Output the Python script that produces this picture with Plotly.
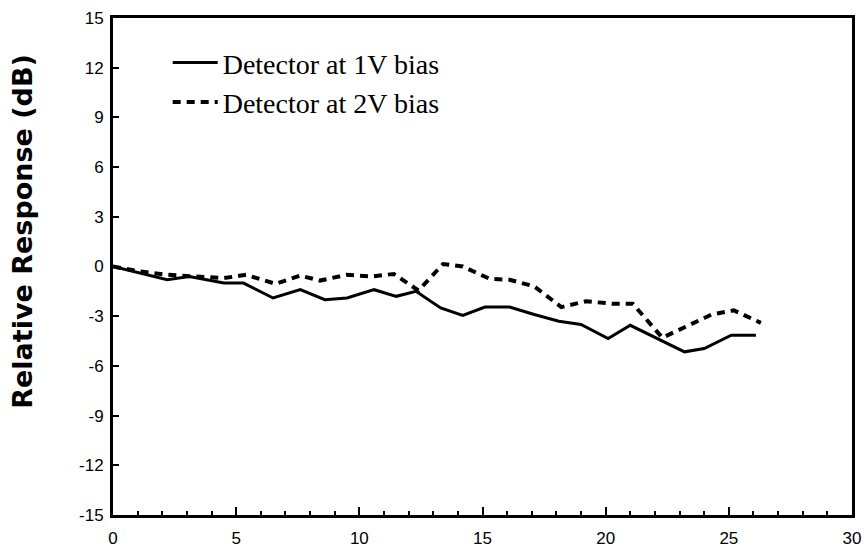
import plotly.graph_objects as go

# Data (x in arbitrary units as shown on the chart, y = relative response in dB)
x_1v = [0, 1.1, 2.2, 3.1, 4.5, 5.3, 6.5, 7.6, 8.6, 9.5, 10.6, 11.5, 12.3, 13.3, 14.2,
        15.1, 16.1, 17.1, 18.1, 19.0, 20.1, 21.0, 22.1, 23.2, 24.0, 25.1, 26.1]
y_1v = [0, -0.4, -0.8, -0.6, -1.0, -1.0, -1.9, -1.4, -2.0, -1.9, -1.4, -1.8, -1.5, -2.5, -2.95,
        -2.45, -2.45, -2.9, -3.3, -3.5, -4.35, -3.55, -4.35, -5.15, -4.95, -4.15, -4.15]

x_2v = [0, 1.1, 2.2, 3.3, 4.5, 5.4, 6.6, 7.6, 8.4, 9.5, 10.5, 11.4, 12.4, 13.4, 14.2,
        15.3, 16.1, 17.1, 18.2, 19.2, 20.3, 21.1, 22.3, 23.3, 24.3, 25.2, 26.3]
y_2v = [0, -0.3, -0.5, -0.6, -0.7, -0.5, -1.05, -0.55, -0.85, -0.5, -0.6, -0.45, -1.45, 0.15, 0.0,
        -0.75, -0.8, -1.2, -2.45, -2.1, -2.25, -2.25, -4.3, -3.6, -2.9, -2.65, -3.4]

names = ["Detector at 1V bias", "Detector at 2V bias"]
y_ticks = [-15, -12, -9, -6, -3, 0, 3, 6, 9, 12, 15]
x_ticks = [0, 5, 10, 15, 20, 25, 30]
y_title = "Relative Response (dB)"

fig = go.Figure()
fig.add_trace(go.Scatter(x=x_1v, y=y_1v, mode="lines", name=names[0],
                         line=dict(color="black", width=3)))
fig.add_trace(go.Scatter(x=x_2v, y=y_2v, mode="lines", name=names[1],
                         line=dict(color="black", width=4, dash="8px,6px")))

axis_common = dict(showgrid=False, zeroline=False, showline=True, linecolor="black",
                   linewidth=3, mirror=True, ticks="inside", tickcolor="black",
                   automargin=False,
                   tickfont=dict(family="Liberation Sans, Arial", size=17, color="black"))

fig.update_xaxes(range=[0, 30], tickvals=x_ticks, ticktext=[str(v) for v in x_ticks],
                 ticklen=8, tickwidth=2, ticklabelstandoff=6,
                 minor=dict(ticks="inside", dtick=1, ticklen=4, tickwidth=2, tickcolor="black"),
                 **axis_common)
fig.update_yaxes(range=[-15, 15], tickvals=y_ticks, ticktext=[str(v) for v in y_ticks],
                 ticklen=6, tickwidth=2, ticklabelstandoff=3,
                 **axis_common)

fig.add_annotation(text="<b>" + y_title + "</b>", textangle=-90,
                   xref="paper", yref="paper", x=-0.1216, y=0.57,
                   xanchor="center", yanchor="middle", showarrow=False,
                   font=dict(family="DejaVu Sans", size=27, color="black"))

fig.update_layout(
    width=867, height=548,
    margin=dict(l=113, r=15, t=18, b=33),
    paper_bgcolor="white", plot_bgcolor="white",
    showlegend=True,
    legend=dict(x=0.074, y=0.96, xanchor="left", yanchor="top",
                bgcolor="rgba(0,0,0,0)", itemwidth=45, tracegroupgap=0,
                font=dict(family="Liberation Serif, Times New Roman", size=28, color="black")),
)

fig.write_html("out.html")
